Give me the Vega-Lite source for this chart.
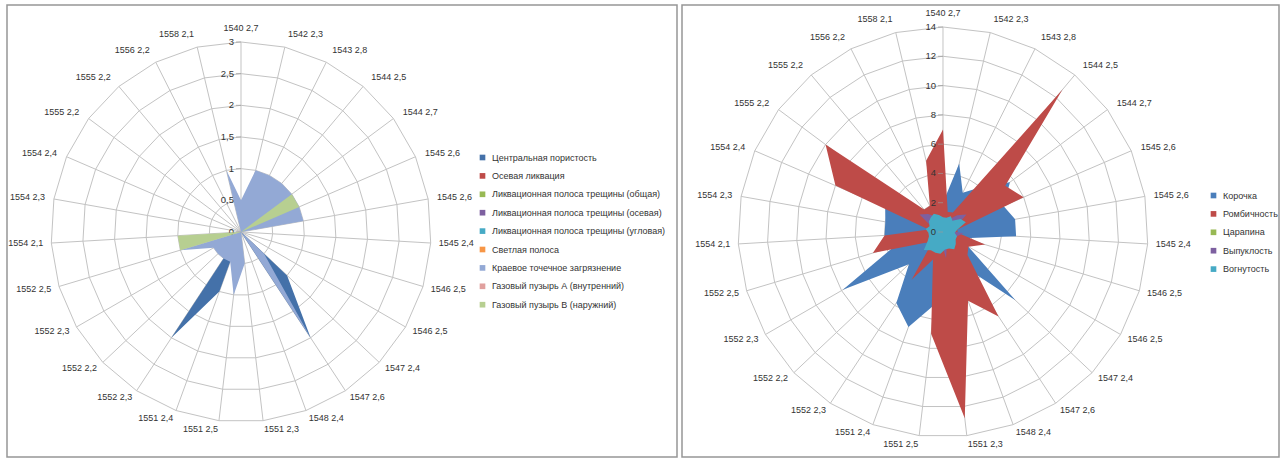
{
  "$schema": "https://vega.github.io/schema/vega-lite/v6.json",
  "background": "white",
  "padding": {"left": 6, "top": 4, "right": 4, "bottom": 3},
  "spacing": 3,
  "config": {
    "view": {"stroke": "#969696", "strokeWidth": 1.5},
    "font": "Liberation Sans",
    "legend": {"orient": "none", "title": null, "symbolType": "square", "symbolSize": 32, "labelFontSize": 9, "labelFont": "Liberation Sans", "labelColor": "#333333", "rowPadding": 8.4, "labelOffset": 5, "padding": 0, "symbolStrokeWidth": 0, "labelLimit": 400}
  },
  "datasets": {
    "cats": [
      {"i": 0, "label": "1540 2,7", "rL": [0.5,1,1.5,2,2.5,3], "rR": [2,4,6,8,10,12,14]},
      {"i": 1, "label": "1542 2,3", "rL": [0.5,1,1.5,2,2.5,3], "rR": [2,4,6,8,10,12,14]},
      {"i": 2, "label": "1543 2,8", "rL": [0.5,1,1.5,2,2.5,3], "rR": [2,4,6,8,10,12,14]},
      {"i": 3, "label": "1544 2,5", "rL": [0.5,1,1.5,2,2.5,3], "rR": [2,4,6,8,10,12,14]},
      {"i": 4, "label": "1544 2,7", "rL": [0.5,1,1.5,2,2.5,3], "rR": [2,4,6,8,10,12,14]},
      {"i": 5, "label": "1545 2,6", "rL": [0.5,1,1.5,2,2.5,3], "rR": [2,4,6,8,10,12,14]},
      {"i": 6, "label": "1545 2,6", "rL": [0.5,1,1.5,2,2.5,3], "rR": [2,4,6,8,10,12,14]},
      {"i": 7, "label": "1545 2,4", "rL": [0.5,1,1.5,2,2.5,3], "rR": [2,4,6,8,10,12,14]},
      {"i": 8, "label": "1546 2,5", "rL": [0.5,1,1.5,2,2.5,3], "rR": [2,4,6,8,10,12,14]},
      {"i": 9, "label": "1546 2,5", "rL": [0.5,1,1.5,2,2.5,3], "rR": [2,4,6,8,10,12,14]},
      {"i": 10, "label": "1547 2,4", "rL": [0.5,1,1.5,2,2.5,3], "rR": [2,4,6,8,10,12,14]},
      {"i": 11, "label": "1547 2,6", "rL": [0.5,1,1.5,2,2.5,3], "rR": [2,4,6,8,10,12,14]},
      {"i": 12, "label": "1548 2,4", "rL": [0.5,1,1.5,2,2.5,3], "rR": [2,4,6,8,10,12,14]},
      {"i": 13, "label": "1551 2,3", "rL": [0.5,1,1.5,2,2.5,3], "rR": [2,4,6,8,10,12,14]},
      {"i": 14, "label": "1551 2,5", "rL": [0.5,1,1.5,2,2.5,3], "rR": [2,4,6,8,10,12,14]},
      {"i": 15, "label": "1551 2,4", "rL": [0.5,1,1.5,2,2.5,3], "rR": [2,4,6,8,10,12,14]},
      {"i": 16, "label": "1552 2,3", "rL": [0.5,1,1.5,2,2.5,3], "rR": [2,4,6,8,10,12,14]},
      {"i": 17, "label": "1552 2,2", "rL": [0.5,1,1.5,2,2.5,3], "rR": [2,4,6,8,10,12,14]},
      {"i": 18, "label": "1552 2,3", "rL": [0.5,1,1.5,2,2.5,3], "rR": [2,4,6,8,10,12,14]},
      {"i": 19, "label": "1552 2,5", "rL": [0.5,1,1.5,2,2.5,3], "rR": [2,4,6,8,10,12,14]},
      {"i": 20, "label": "1554 2,1", "rL": [0.5,1,1.5,2,2.5,3], "rR": [2,4,6,8,10,12,14]},
      {"i": 21, "label": "1554 2,3", "rL": [0.5,1,1.5,2,2.5,3], "rR": [2,4,6,8,10,12,14]},
      {"i": 22, "label": "1554 2,4", "rL": [0.5,1,1.5,2,2.5,3], "rR": [2,4,6,8,10,12,14]},
      {"i": 23, "label": "1555 2,2", "rL": [0.5,1,1.5,2,2.5,3], "rR": [2,4,6,8,10,12,14]},
      {"i": 24, "label": "1555 2,2", "rL": [0.5,1,1.5,2,2.5,3], "rR": [2,4,6,8,10,12,14]},
      {"i": 25, "label": "1556 2,2", "rL": [0.5,1,1.5,2,2.5,3], "rR": [2,4,6,8,10,12,14]},
      {"i": 26, "label": "1558 2,1", "rL": [0.5,1,1.5,2,2.5,3], "rR": [2,4,6,8,10,12,14]}
    ],
    "ringsL": [
      {"r": 0, "t": "0"}, {"r": 0.5, "t": "0,5"}, {"r": 1, "t": "1"}, {"r": 1.5, "t": "1,5"},
      {"r": 2, "t": "2"}, {"r": 2.5, "t": "2,5"}, {"r": 3, "t": "3"}
    ],
    "ringsR": [
      {"r": 0, "t": "0"}, {"r": 2, "t": "2"}, {"r": 4, "t": "4"}, {"r": 6, "t": "6"},
      {"r": 8, "t": "8"}, {"r": 10, "t": "10"}, {"r": 12, "t": "12"}, {"r": 14, "t": "14"}
    ],
    "serL": [
      {"key": "s1", "name": "Центральная пористость"},
      {"key": "s2", "name": "Осевая ликвация"},
      {"key": "s3", "name": "Ликвационная полоса трещины (общая)"},
      {"key": "s4", "name": "Ликвационная полоса трещины (осевая)"},
      {"key": "s5", "name": "Ликвационная полоса трещины (угловая)"},
      {"key": "s6", "name": "Светлая полоса"},
      {"key": "s7", "name": "Краевое точечное загрязнение"},
      {"key": "s8", "name": "Газовый пузырь А (внутренний)"},
      {"key": "s9", "name": "Газовый пузырь В (наружний)"}
    ],
    "serR": [
      {"key": "s1", "name": "Корочка"},
      {"key": "s2", "name": "Ромбичность"},
      {"key": "s3", "name": "Царапина"},
      {"key": "s4", "name": "Выпуклость"},
      {"key": "s5", "name": "Вогнутость"}
    ],
    "valsL": [
      {"i": 0, "s1": 0, "s2": 0, "s3": 0, "s4": 0, "s5": 0, "s6": 0, "s7": 0.5, "s8": 0, "s9": 0},
      {"i": 1, "s1": 0, "s2": 0, "s3": 0, "s4": 0, "s5": 0, "s6": 0, "s7": 1, "s8": 0, "s9": 0},
      {"i": 2, "s1": 0, "s2": 0, "s3": 0, "s4": 0, "s5": 0, "s6": 0, "s7": 1, "s8": 0, "s9": 0},
      {"i": 3, "s1": 0, "s2": 0, "s3": 0, "s4": 0, "s5": 0, "s6": 0, "s7": 1, "s8": 0, "s9": 0},
      {"i": 4, "s1": 0, "s2": 0, "s3": 0, "s4": 0, "s5": 0, "s6": 0, "s7": 1, "s8": 0, "s9": 1},
      {"i": 5, "s1": 0, "s2": 0, "s3": 0, "s4": 0, "s5": 0, "s6": 0, "s7": 1, "s8": 0, "s9": 1},
      {"i": 6, "s1": 0, "s2": 0, "s3": 0, "s4": 0, "s5": 0, "s6": 0, "s7": 1, "s8": 0, "s9": 0},
      {"i": 7, "s1": 0, "s2": 0, "s3": 0, "s4": 0, "s5": 0, "s6": 0, "s7": 0, "s8": 0, "s9": 0},
      {"i": 8, "s1": 0, "s2": 0, "s3": 0, "s4": 0, "s5": 0, "s6": 0, "s7": 0, "s8": 0, "s9": 0},
      {"i": 9, "s1": 0, "s2": 0, "s3": 0, "s4": 0, "s5": 0, "s6": 0, "s7": 0, "s8": 0, "s9": 0},
      {"i": 10, "s1": 1, "s2": 0, "s3": 0, "s4": 0, "s5": 0, "s6": 0, "s7": 0.5, "s8": 0, "s9": 0},
      {"i": 11, "s1": 2, "s2": 0, "s3": 0, "s4": 0, "s5": 0, "s6": 0, "s7": 2, "s8": 0, "s9": 0},
      {"i": 12, "s1": 0, "s2": 0, "s3": 0, "s4": 0, "s5": 0, "s6": 0, "s7": 0, "s8": 0, "s9": 0},
      {"i": 13, "s1": 0, "s2": 0, "s3": 0, "s4": 0, "s5": 0, "s6": 0, "s7": 0.5, "s8": 0, "s9": 0},
      {"i": 14, "s1": 0, "s2": 0, "s3": 0, "s4": 0, "s5": 0, "s6": 0, "s7": 1, "s8": 0, "s9": 0},
      {"i": 15, "s1": 1, "s2": 0, "s3": 0, "s4": 0, "s5": 0, "s6": 0, "s7": 0.5, "s8": 0, "s9": 0},
      {"i": 16, "s1": 2, "s2": 0, "s3": 0, "s4": 0, "s5": 0, "s6": 0, "s7": 0.5, "s8": 0, "s9": 0},
      {"i": 17, "s1": 0, "s2": 0, "s3": 0, "s4": 0, "s5": 0, "s6": 0, "s7": 0.5, "s8": 0, "s9": 0},
      {"i": 18, "s1": 0, "s2": 0, "s3": 0, "s4": 0, "s5": 0, "s6": 0, "s7": 0.5, "s8": 0, "s9": 0},
      {"i": 19, "s1": 0, "s2": 0, "s3": 0, "s4": 0, "s5": 0, "s6": 0, "s7": 1, "s8": 0, "s9": 1},
      {"i": 20, "s1": 0, "s2": 0, "s3": 0, "s4": 0, "s5": 0, "s6": 0, "s7": 0, "s8": 0, "s9": 1},
      {"i": 21, "s1": 0, "s2": 0, "s3": 0, "s4": 0, "s5": 0, "s6": 0, "s7": 0, "s8": 0, "s9": 0},
      {"i": 22, "s1": 0, "s2": 0, "s3": 0, "s4": 0, "s5": 0, "s6": 0, "s7": 0, "s8": 0, "s9": 0},
      {"i": 23, "s1": 0, "s2": 0, "s3": 0, "s4": 0, "s5": 0, "s6": 0, "s7": 0, "s8": 0, "s9": 0},
      {"i": 24, "s1": 0, "s2": 0, "s3": 0, "s4": 0, "s5": 0, "s6": 0, "s7": 0, "s8": 0, "s9": 0},
      {"i": 25, "s1": 0, "s2": 0, "s3": 0, "s4": 0, "s5": 0, "s6": 0, "s7": 0, "s8": 0, "s9": 0},
      {"i": 26, "s1": 0, "s2": 0, "s3": 0, "s4": 0, "s5": 0, "s6": 0, "s7": 1, "s8": 0, "s9": 0}
    ],
    "valsR": [
      {"i": 0, "s1": 2, "s2": 7, "s3": 0, "s4": 0.5, "s5": 1},
      {"i": 1, "s1": 4.8, "s2": 1.4, "s3": 0, "s4": 0.5, "s5": 1},
      {"i": 2, "s1": 3, "s2": 1.5, "s3": 0, "s4": 1, "s5": 1.2},
      {"i": 3, "s1": 4, "s2": 12.7, "s3": 0, "s4": 1.5, "s5": 1},
      {"i": 4, "s1": 5.7, "s2": 5.3, "s3": 0, "s4": 2, "s5": 1.5},
      {"i": 5, "s1": 4.5, "s2": 6, "s3": 0, "s4": 1, "s5": 1.7},
      {"i": 6, "s1": 5, "s2": 1, "s3": 0, "s4": 0.5, "s5": 1},
      {"i": 7, "s1": 5, "s2": 1, "s3": 0, "s4": 1.4, "s5": 0.8},
      {"i": 8, "s1": 1.5, "s2": 3, "s3": 0, "s4": 1, "s5": 1},
      {"i": 9, "s1": 2, "s2": 2, "s3": 0, "s4": 0.8, "s5": 1},
      {"i": 10, "s1": 6.8, "s2": 2.3, "s3": 0, "s4": 0.5, "s5": 1.2},
      {"i": 11, "s1": 3, "s2": 6.9, "s3": 0, "s4": 0.5, "s5": 1.4},
      {"i": 12, "s1": 3, "s2": 5, "s3": 0, "s4": 0.8, "s5": 1.2},
      {"i": 13, "s1": 3, "s2": 12.8, "s3": 0, "s4": 1.8, "s5": 1.2},
      {"i": 14, "s1": 5, "s2": 7, "s3": 0, "s4": 0.8, "s5": 1.5},
      {"i": 15, "s1": 6.9, "s2": 2, "s3": 0, "s4": 0.5, "s5": 1.5},
      {"i": 16, "s1": 5.8, "s2": 3.9, "s3": 0, "s4": 0.5, "s5": 1.5},
      {"i": 17, "s1": 3.2, "s2": 1, "s3": 0, "s4": 0.5, "s5": 1.8},
      {"i": 18, "s1": 7.9, "s2": 1.5, "s3": 0, "s4": 0.5, "s5": 1.2},
      {"i": 19, "s1": 3.5, "s2": 5, "s3": 0, "s4": 0.5, "s5": 1},
      {"i": 20, "s1": 4, "s2": 4, "s3": 0, "s4": 0.5, "s5": 1},
      {"i": 21, "s1": 4, "s2": 1, "s3": 0, "s4": 0.5, "s5": 1.2},
      {"i": 22, "s1": 4.3, "s2": 8, "s3": 0, "s4": 0.8, "s5": 1},
      {"i": 23, "s1": 3, "s2": 10, "s3": 0, "s4": 2, "s5": 1.2},
      {"i": 24, "s1": 2, "s2": 2, "s3": 0, "s4": 1.6, "s5": 1.3},
      {"i": 25, "s1": 1.5, "s2": 2, "s3": 0, "s4": 1.2, "s5": 1.4},
      {"i": 26, "s1": 1.5, "s2": 5, "s3": 0, "s4": 0.5, "s5": 1.2}
    ]
  },
  "hconcat": [
    {
      "width": 670,
      "height": 452,
      "encoding": {
        "x": {"field": "x", "type": "quantitative", "scale": {"domain": [-3.695, 6.884], "nice": false, "zero": false}, "axis": null},
        "y": {"field": "y", "type": "quantitative", "scale": {"domain": [-3.553, 3.584], "nice": false, "zero": false}, "axis": null}
      },
      "layer": [
        {
          "data": {"name": "cats"},
          "transform": [
            {"flatten": ["rL"], "as": ["r"]},
            {"calculate": "datum.i*2*PI/27", "as": "a"},
            {"calculate": "datum.r*sin(datum.a)", "as": "x"},
            {"calculate": "datum.r*cos(datum.a)", "as": "y"}
          ],
          "mark": {"type": "line", "interpolate": "linear-closed", "stroke": "#c3c3c3", "strokeWidth": 1},
          "encoding": {"detail": {"field": "r", "type": "nominal"}, "order": {"field": "i", "type": "quantitative"}}
        },
        {
          "data": {"name": "cats"},
          "transform": [
            {"calculate": "datum.i*2*PI/27", "as": "a"},
            {"calculate": "3*sin(datum.a)", "as": "x"},
            {"calculate": "3*cos(datum.a)", "as": "y"}
          ],
          "mark": {"type": "rule", "stroke": "#c3c3c3", "strokeWidth": 1},
          "encoding": {"x2": {"datum": 0}, "y2": {"datum": 0}}
        },
        {
          "data": {"name": "ringsL"},
          "transform": [{"calculate": "0", "as": "x"}, {"calculate": "datum.r", "as": "y"}],
          "mark": {"type": "tick", "orient": "horizontal", "size": 5, "thickness": 1, "xOffset": -2.5, "color": "#9a9a9a"}
        },
        {
          "data": {"name": "ringsL"},
          "transform": [{"calculate": "0", "as": "x"}, {"calculate": "datum.r", "as": "y"}],
          "mark": {"type": "text", "align": "right", "baseline": "middle", "dx": -7, "fontSize": 9.5, "font": "Liberation Sans", "fill": "#333333"},
          "encoding": {"text": {"field": "t"}}
        },
        {
          "data": {"name": "cats"},
          "transform": [
            {"calculate": "datum.i*2*PI/27", "as": "a"},
            {"calculate": "3 + (8 + 6*max(cos(datum.a), 0))/63.33", "as": "lr"},
            {"calculate": "datum.lr*sin(datum.a)", "as": "x"},
            {"calculate": "datum.lr*cos(datum.a)", "as": "y"},
            {"calculate": "abs(sin(datum.a)) < 0.05 ? 'center' : (sin(datum.a) > 0 ? 'left' : 'right')", "as": "al"}
          ],
          "mark": {"type": "text", "align": {"expr": "datum.al"}, "baseline": "middle", "fontSize": 9, "font": "Liberation Sans", "fill": "#333333"},
          "encoding": {"text": {"field": "label"}}
        },
        {
          "data": {"name": "valsL"},
          "transform": [
            {"fold": ["s1", "s2", "s3", "s4", "s5", "s6", "s7", "s8", "s9"], "as": ["key", "v"]},
            {"lookup": "key", "from": {"data": {"name": "serL"}, "key": "key", "fields": ["name"]}},
            {"calculate": "datum.i*2*PI/27", "as": "a"},
            {"calculate": "datum.v*sin(datum.a)", "as": "x"},
            {"calculate": "datum.v*cos(datum.a)", "as": "y"}
          ],
          "mark": {"type": "line", "filled": true, "interpolate": "linear-closed", "strokeWidth": 0},
          "encoding": {
            "color": {
              "field": "name", "type": "nominal",
              "scale": {
                "domain": ["Центральная пористость", "Осевая ликвация", "Ликвационная полоса трещины (общая)", "Ликвационная полоса трещины (осевая)", "Ликвационная полоса трещины (угловая)", "Светлая полоса", "Краевое точечное загрязнение", "Газовый пузырь А (внутренний)", "Газовый пузырь В (наружний)"],
                "range": ["#4471A9", "#BE4B48", "#98B954", "#7D60A0", "#46AAC5", "#F79646", "#93A9D5", "#E0A09E", "#B7CF91"]
              },
              "legend": {"legendX": 471, "legendY": 148}
            },
            "order": {"field": "i", "type": "quantitative"}
          }
        }
      ]
    },
    {
      "width": 597,
      "height": 452,
      "encoding": {
        "x": {"field": "x", "type": "quantitative", "scale": {"domain": [-17.824, 22.946], "nice": false, "zero": false}, "axis": null},
        "y": {"field": "y", "type": "quantitative", "scale": {"domain": [-15.366, 15.503], "nice": false, "zero": false}, "axis": null}
      },
      "layer": [
        {
          "data": {"name": "cats"},
          "transform": [
            {"flatten": ["rR"], "as": ["r"]},
            {"calculate": "datum.i*2*PI/27", "as": "a"},
            {"calculate": "datum.r*sin(datum.a)", "as": "x"},
            {"calculate": "datum.r*cos(datum.a)", "as": "y"}
          ],
          "mark": {"type": "line", "interpolate": "linear-closed", "stroke": "#c3c3c3", "strokeWidth": 1},
          "encoding": {"detail": {"field": "r", "type": "nominal"}, "order": {"field": "i", "type": "quantitative"}}
        },
        {
          "data": {"name": "cats"},
          "transform": [
            {"calculate": "datum.i*2*PI/27", "as": "a"},
            {"calculate": "14*sin(datum.a)", "as": "x"},
            {"calculate": "14*cos(datum.a)", "as": "y"}
          ],
          "mark": {"type": "rule", "stroke": "#c3c3c3", "strokeWidth": 1},
          "encoding": {"x2": {"datum": 0}, "y2": {"datum": 0}}
        },
        {
          "data": {"name": "valsR"},
          "transform": [
            {"fold": ["s1", "s2", "s3", "s4", "s5"], "as": ["key", "v"]},
            {"lookup": "key", "from": {"data": {"name": "serR"}, "key": "key", "fields": ["name"]}},
            {"calculate": "datum.i*2*PI/27", "as": "a"},
            {"calculate": "datum.v*sin(datum.a)", "as": "x"},
            {"calculate": "datum.v*cos(datum.a)", "as": "y"}
          ],
          "mark": {"type": "line", "filled": true, "interpolate": "linear-closed", "strokeWidth": 0},
          "encoding": {
            "color": {
              "field": "name", "type": "nominal",
              "scale": {
                "domain": ["Корочка", "Ромбичность", "Царапина", "Выпуклость", "Вогнутость"],
                "range": ["#4A7EBB", "#BE4B48", "#98B954", "#7D60A0", "#46AAC5"]
              },
              "legend": {"legendX": 527, "legendY": 186}
            },
            "order": {"field": "i", "type": "quantitative"}
          }
        },
        {
          "data": {"name": "ringsR"},
          "transform": [{"calculate": "0", "as": "x"}, {"calculate": "datum.r", "as": "y"}],
          "mark": {"type": "tick", "orient": "horizontal", "size": 5, "thickness": 1, "xOffset": -2.5, "color": "#9a9a9a"}
        },
        {
          "data": {"name": "ringsR"},
          "transform": [{"calculate": "0", "as": "x"}, {"calculate": "datum.r", "as": "y"}],
          "mark": {"type": "text", "align": "right", "baseline": "middle", "dx": -7, "fontSize": 9.5, "font": "Liberation Sans", "fill": "#333333"},
          "encoding": {"text": {"field": "t"}}
        },
        {
          "data": {"name": "cats"},
          "transform": [
            {"calculate": "datum.i*2*PI/27", "as": "a"},
            {"calculate": "14 + (8 + 6*max(cos(datum.a), 0))/14.643", "as": "lr"},
            {"calculate": "datum.lr*sin(datum.a)", "as": "x"},
            {"calculate": "datum.lr*cos(datum.a)", "as": "y"},
            {"calculate": "abs(sin(datum.a)) < 0.05 ? 'center' : (sin(datum.a) > 0 ? 'left' : 'right')", "as": "al"}
          ],
          "mark": {"type": "text", "align": {"expr": "datum.al"}, "baseline": "middle", "fontSize": 9, "font": "Liberation Sans", "fill": "#333333"},
          "encoding": {"text": {"field": "label"}}
        }
      ]
    }
  ],
  "resolve": {"scale": {"color": "independent"}, "legend": {"color": "independent"}}
}
